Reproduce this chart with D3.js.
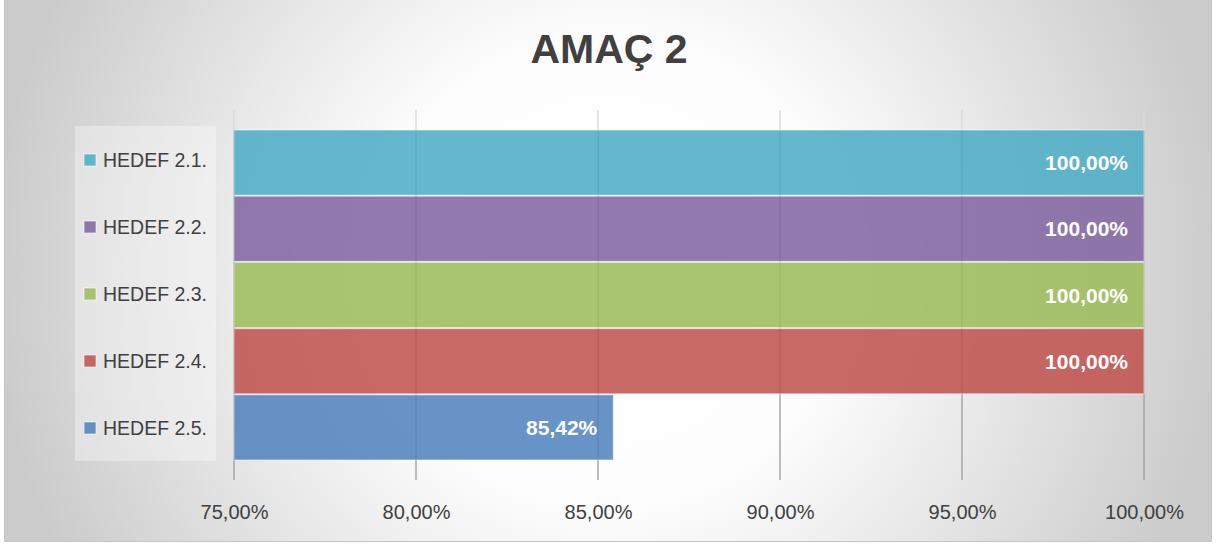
<!DOCTYPE html>
<html>
<head>
<meta charset="utf-8">
<script src="https://cdn.jsdelivr.net/npm/d3@7"></script>
<style>
  html, body { margin: 0; padding: 0; background: #ffffff; }
  svg { display: block; }
</style>
</head>
<body>
<svg id="chart" width="1219" height="544"></svg>
<script>
const title = "AMAÇ 2";
const categories = ["HEDEF 2.1.", "HEDEF 2.2.", "HEDEF 2.3.", "HEDEF 2.4.", "HEDEF 2.5."];
const values = [1.00, 1.00, 1.00, 1.00, 0.8542];
const colors = ["#4bacc6", "#8064a2", "#9bbb59", "#c0504d", "#4f81bd"];
const tickValues = [0.75, 0.80, 0.85, 0.90, 0.95, 1.00];
const tickLabels = ["75,00%", "80,00%", "85,00%", "90,00%", "95,00%", "100,00%"];
const dataLabels = ["100,00%", "100,00%", "100,00%", "100,00%", "85,42%"];

const W = 1219, H = 544;
const FONT = "'Liberation Sans', Arial, sans-serif";
const svg = d3.select("#chart");

// background gradient
const defs = svg.append("defs");
const rg = defs.append("radialGradient")
  .attr("id", "bg").attr("gradientUnits", "userSpaceOnUse")
  .attr("cx", 609).attr("cy", 272).attr("r", 620);
rg.append("stop").attr("offset", 0).attr("stop-color", "#ffffff");
rg.append("stop").attr("offset", 0.38).attr("stop-color", "#fdfdfd");
rg.append("stop").attr("offset", 1).attr("stop-color", "#cbcbcb");

svg.append("rect").attr("x", 4.5).attr("y", -1).attr("width", 1207).attr("height", 542.5)
  .attr("fill", "url(#bg)").attr("stroke", "#c4c4c4").attr("stroke-width", 1);

// title
svg.append("text").attr("x", 609).attr("y", 63).attr("text-anchor", "middle")
  .attr("font-family", FONT).attr("font-weight", "bold").attr("font-size", 41)
  .attr("fill", "#404040").text(title);

// scales
const x = d3.scaleLinear().domain([0.75, 1.0]).range([234, 1144]);
const y = d3.scaleBand().domain(categories).range([130, 460]).paddingInner(0.015).paddingOuter(0);

// legend box
svg.append("rect").attr("x", 75).attr("y", 126).attr("width", 141).attr("height", 335)
  .attr("fill", "#ffffff").attr("fill-opacity", 0.35);

// gridlines (light upper stub + darker main line)
const grid = svg.append("g");
grid.selectAll("line.top").data(tickValues).join("line").attr("class", "top")
  .attr("x1", d => x(d)).attr("x2", d => x(d)).attr("y1", 110).attr("y2", 130)
  .attr("stroke", "#d9d9d9").attr("stroke-width", 1.3);
grid.selectAll("line.main").data(tickValues).join("line").attr("class", "main")
  .attr("x1", d => x(d)).attr("x2", d => x(d)).attr("y1", 130).attr("y2", 480)
  .attr("stroke", "#a3a3a3").attr("stroke-width", 1.4);

// bars
svg.append("g").selectAll("rect").data(categories).join("rect")
  .attr("x", x(0.75))
  .attr("y", d => y(d))
  .attr("width", (d, i) => x(values[i]) - x(0.75))
  .attr("height", y.bandwidth())
  .attr("fill", (d, i) => colors[i])
  .attr("fill-opacity", 0.86)
  .attr("stroke", "#ffffff").attr("stroke-opacity", 0.45).attr("stroke-width", 1.2);

// data labels
svg.append("g").selectAll("text").data(categories).join("text")
  .attr("x", (d, i) => x(values[i]) - 16)
  .attr("y", d => y(d) + y.bandwidth() / 2 + 7.5)
  .attr("text-anchor", "end")
  .attr("font-family", FONT).attr("font-weight", "bold").attr("font-size", 21)
  .attr("fill", "#ffffff")
  .text((d, i) => dataLabels[i]);

// x axis labels
const axis = d3.axisBottom(x).tickValues(tickValues)
  .tickFormat((d, i) => tickLabels[i]).tickSize(0).tickPadding(0);
const ax = svg.append("g").attr("transform", "translate(0,504)").call(axis);
ax.select(".domain").remove();
ax.selectAll("text").attr("font-family", FONT).attr("font-size", 20)
  .attr("fill", "#404040").attr("dy", "0.75em").attr("y", 0);

// legend
const ly = d3.scalePoint().domain(categories).range([160, 428]);
const leg = svg.append("g").selectAll("g").data(categories).join("g")
  .attr("transform", d => `translate(0,${ly(d)})`);
leg.append("rect").attr("x", 84).attr("y", -6).attr("width", 12).attr("height", 12)
  .attr("fill", (d, i) => colors[i]).attr("fill-opacity", 0.86)
  .attr("stroke", "#ffffff").attr("stroke-opacity", 0.6).attr("stroke-width", 1);
leg.append("text").attr("x", 103).attr("y", 7)
  .attr("font-family", FONT).attr("font-size", 19.5).attr("fill", "#404040")
  .text(d => d);
</script>
</body>
</html>
